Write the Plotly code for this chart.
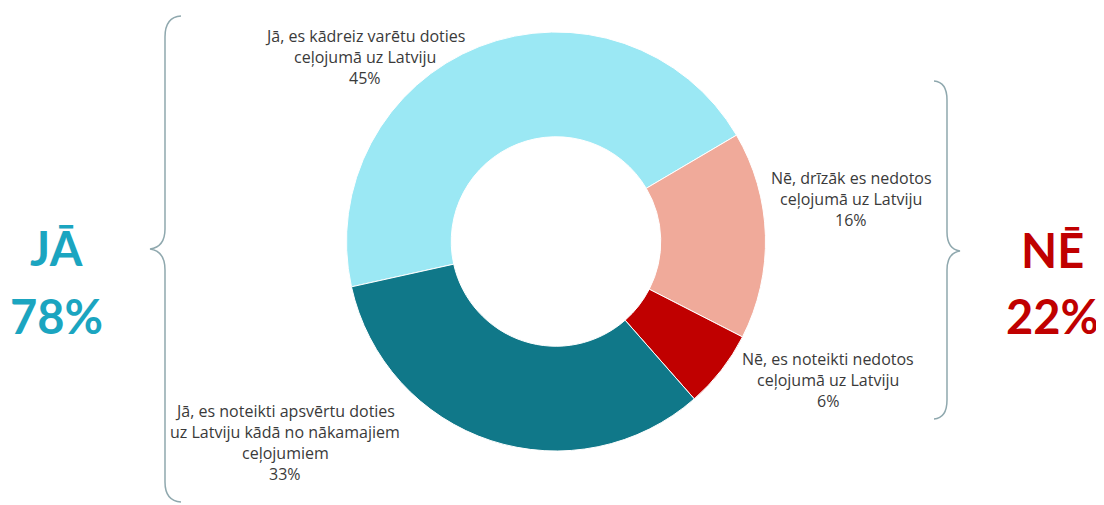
import plotly.graph_objects as go

# ---- data ----
categories = [
    "Jā, es kādreiz varētu doties<br>ceļojumā uz Latviju",
    "Nē, drīzāk es nedotos<br>ceļojumā uz Latviju",
    "Nē, es noteikti nedotos<br>ceļojumā uz Latviju",
    "Jā, es noteikti apsvērtu doties<br>uz Latviju kādā no nākamajiem<br>ceļojumiem",
]
values = [45, 16, 6, 33]
groups = ["JĀ", "NĒ", "NĒ", "JĀ"]
group_names = ["JĀ", "NĒ"]

# ---- style ----
W, H = 1104, 505
OFF = 8  # page body margin
colors = ["#9BE8F4", "#F0AA9A", "#C00000", "#107889"]
group_colors = {"JĀ": "#1BA5C0", "NĒ": "#C00000"}
text_color = "#3A3A3A"
brace_color = "#8FA8AE"
LABEL_FONT = "Open Sans"
BIG_FONT = "Lato"

# label anchor positions (pixels): centre x, first line centre y
label_pos = [(365, 36), (851, 178), (828, 359), (285, 411)]
line_step = 21

def px(x):
    return (x - OFF) / W

def py(y):
    return 1 - (y - OFF) / H

fig = go.Figure()
fig.add_trace(go.Pie(
    labels=[c.replace("<br>", " ") for c in categories],
    values=values,
    hole=0.5,
    sort=False,
    direction="clockwise",
    rotation=-102.5,
    marker=dict(colors=colors, line=dict(color="white", width=1)),
    textinfo="none",
    hoverinfo="label+percent",
    showlegend=False,
    domain=dict(x=[px(556 - 209.5), px(556 + 209.5)], y=[py(451), py(32)]),
))

annotations = []
for cat, val, (cx, cy) in zip(categories, values, label_pos):
    lines = cat.split("<br>") + [f"{val}%"]
    for i, ln in enumerate(lines):
        annotations.append(dict(
            x=px(cx), y=py(cy + i * line_step), xref="paper", yref="paper",
            text=ln, showarrow=False, xanchor="center", yanchor="middle",
            font=dict(family=LABEL_FONT, size=16, color=text_color),
        ))

# group totals
totals = {g: sum(v for v, gg in zip(values, groups) if gg == g) for g in group_names}
group_pos = {"JĀ": (56, 248, 316), "NĒ": (1052, 250, 316)}
for g in group_names:
    gx, gy1, gy2 = group_pos[g]
    for txt, yy in [(g, gy1), (f"{totals[g]}%", gy2)]:
        annotations.append(dict(
            x=px(gx), y=py(yy), xref="paper", yref="paper",
            text=f"<b>{txt}</b>", showarrow=False, xanchor="center", yanchor="middle",
            font=dict(family=BIG_FONT, size=47, color=group_colors[g]),
        ))

def brace_path(pts):
    out = []
    for cmd, coords in pts:
        s = " ".join(f"{px(x):.5f},{py(y):.5f}" for x, y in coords)
        out.append(f"{cmd} {s}")
    return " ".join(out)

left_brace = brace_path([
    ("M", [(181, 16)]), ("Q", [(165, 17), (165, 37)]),
    ("L", [(165, 229)]), ("Q", [(165, 247), (150, 249)]),
    ("Q", [(165, 251), (165, 270)]), ("L", [(165, 482)]),
    ("Q", [(165, 501), (181, 502)]),
])
right_brace = brace_path([
    ("M", [(934, 81)]), ("Q", [(947, 82), (947, 100)]),
    ("L", [(947, 232)]), ("Q", [(947, 249), (960, 251)]),
    ("Q", [(947, 253), (947, 270)]), ("L", [(947, 400)]),
    ("Q", [(947, 418), (934, 419)]),
])
shapes = [
    dict(type="path", xref="paper", yref="paper", path=p,
         line=dict(color=brace_color, width=1.5))
    for p in (left_brace, right_brace)
]

fig.update_layout(
    width=W, height=H,
    margin=dict(l=0, r=0, t=0, b=0),
    paper_bgcolor="white", plot_bgcolor="white",
    annotations=annotations, shapes=shapes,
    font=dict(family=LABEL_FONT),
)
fig.write_html("out.html")
